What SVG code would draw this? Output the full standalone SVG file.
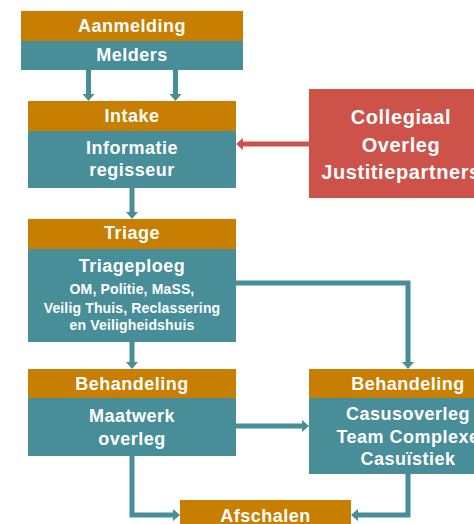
<svg xmlns="http://www.w3.org/2000/svg" width="474" height="524" viewBox="0 0 474 524">
  <style>
    .hd { fill: #C87E00; }
    .bd { fill: #478E99; }
    .rd { fill: #CD524A; }
    text { font-family: "Liberation Sans", Arial, sans-serif; font-weight: bold; fill: #FFFFFF; text-anchor: middle; }
    .t18 { font-size: 18px; letter-spacing: 0.5px; }
    .t20 { font-size: 20px; letter-spacing: 0.6px; }
    .t14 { font-size: 14px; letter-spacing: 0.15px; }
    .ln { fill: none; stroke: #478E99; stroke-width: 5; }
    .lnr { fill: none; stroke: #CD524A; stroke-width: 5; }
  </style>
  <defs>
    <marker id="ah" viewBox="0 0 7 12" refX="0" refY="6" markerWidth="7" markerHeight="12" markerUnits="userSpaceOnUse" orient="auto">
      <path d="M0,0 L7,6 L0,12 Z" fill="#478E99"/>
    </marker>
    <marker id="ahr" viewBox="0 0 7 12" refX="0" refY="6" markerWidth="7" markerHeight="12" markerUnits="userSpaceOnUse" orient="auto">
      <path d="M0,0 L7,6 L0,12 Z" fill="#CD524A"/>
    </marker>
  </defs>

  <g id="connectors">
    <path class="ln" d="M88.5 70 V94" marker-end="url(#ah)"/>
    <path class="ln" d="M175.5 70 V94" marker-end="url(#ah)"/>
    <path class="lnr" d="M309 144 H243" marker-end="url(#ahr)"/>
    <path class="ln" d="M132 188 V212" marker-end="url(#ah)"/>
    <path class="ln" d="M132 342 V362" marker-end="url(#ah)"/>
    <path class="ln" d="M236 283 H408 V362" marker-end="url(#ah)"/>
    <path class="ln" d="M236 426 H302" marker-end="url(#ah)"/>
    <path class="ln" d="M132 456 V515 H173" marker-end="url(#ah)"/>
    <path class="ln" d="M408 474 V515 H358" marker-end="url(#ah)"/>
  </g>

  <g id="aanmelding">
    <rect class="hd" x="21" y="11" width="222" height="30"/>
    <rect class="bd" x="21" y="41" width="222" height="29"/>
    <text class="t18" x="132" y="32">Aanmelding</text>
    <text class="t18" x="132" y="61">Melders</text>
  </g>

  <g id="intake">
    <rect class="hd" x="28" y="101" width="208" height="30"/>
    <rect class="bd" x="28" y="131" width="208" height="57"/>
    <text class="t18" x="132" y="122">Intake</text>
    <text class="t18" x="132" y="154">Informatie</text>
    <text class="t18" x="132" y="176">regisseur</text>
  </g>

  <g id="collegiaal">
    <rect class="rd" x="309" y="89" width="185" height="109"/>
    <text class="t20" x="401" y="124">Collegiaal</text>
    <text class="t20" x="401" y="152">Overleg</text>
    <text class="t20" x="401" y="179">Justitiepartners</text>
  </g>

  <g id="triage">
    <rect class="hd" x="28" y="219" width="208" height="30"/>
    <rect class="bd" x="28" y="249" width="208" height="93"/>
    <text class="t18" x="132" y="239">Triage</text>
    <text class="t18" x="132" y="272">Triageploeg</text>
    <text class="t14" x="132" y="294">OM, Politie, MaSS,</text>
    <text class="t14" x="132" y="313">Veilig Thuis, Reclassering</text>
    <text class="t14" x="132" y="330">en Veiligheidshuis</text>
  </g>

  <g id="behandeling-maatwerk">
    <rect class="hd" x="28" y="369" width="208" height="29"/>
    <rect class="bd" x="28" y="398" width="208" height="58"/>
    <text class="t18" x="132" y="390">Behandeling</text>
    <text class="t18" x="132" y="422">Maatwerk</text>
    <text class="t18" x="132" y="445">overleg</text>
  </g>

  <g id="behandeling-casus">
    <rect class="hd" x="309" y="369" width="185" height="29"/>
    <rect class="bd" x="309" y="398" width="185" height="76"/>
    <text class="t18" x="408" y="390">Behandeling</text>
    <text class="t18" x="408" y="420">Casusoverleg</text>
    <text class="t18" x="408" y="443">Team Complexe</text>
    <text class="t18" x="408" y="465">Casuïstiek</text>
  </g>

  <g id="afschalen">
    <rect class="hd" x="180" y="500" width="171" height="30"/>
    <text class="t18" x="265.5" y="522">Afschalen</text>
  </g>
</svg>
